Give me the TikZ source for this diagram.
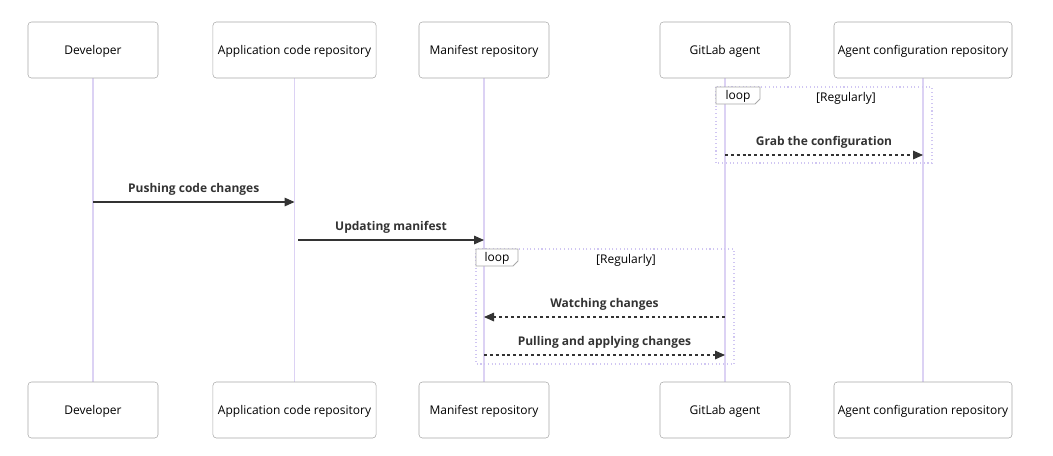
\documentclass[tikz,border=0pt]{standalone}
\usepackage{fontspec}
\setmainfont{Open Sans}
\usetikzlibrary{arrows.meta, positioning, backgrounds}

\definecolor{actorline}{HTML}{A8A8A8}
\definecolor{lifeline}{HTML}{DCD2F4}
\definecolor{loopline}{HTML}{D0C6F2}
\definecolor{msgtext}{HTML}{333333}

\begin{document}
\begin{tikzpicture}[
    x=0.75pt, y=-0.75pt,
    >={Triangle[length=7.5pt, width=6.5pt]},
    actor/.style={rectangle, rounded corners=2.5pt, draw=actorline, fill=white,
                  minimum height=42pt, inner sep=0pt, text height=9pt, text depth=1.8pt,
                  font=\fontsize{9}{10}\selectfont},
    life/.style={draw=lifeline, line width=1.3pt},
    msg/.style={->, draw=msgtext, line width=0.8pt},
    reply/.style={msg, dash pattern=on 2.2pt off 2.2pt},
    msglabel/.style={font=\fontsize{9}{10}\selectfont\bfseries, text=msgtext, above=1.5pt},
    loopframe/.style={draw=loopline, line width=0.8pt, dotted},
    looptab/.style={draw=actorline, fill=white, line width=0.6pt},
    looptext/.style={font=\fontsize{9}{10}\selectfont, text=black, text height=6.8pt, text depth=1.8pt}
]
\useasboundingbox (0,0) rectangle (1053,455);

% Participants (top)
\node[actor, minimum width=97.5pt]  (dev)      at (93,50)  {Developer};
\node[actor, minimum width=122.3pt] (app)      at (294.5,50) {Application code repository};
\node[actor, minimum width=97.5pt]  (manifest) at (484,50) {Manifest repository};
\node[actor, minimum width=97.5pt]  (agent)    at (725,50) {GitLab agent};
\node[actor, minimum width=133.5pt] (config)   at (923,50) {Agent configuration repository};

% Participants (bottom)
\node[actor, minimum width=97.5pt]  (devB)      at (93,410)  {Developer};
\node[actor, minimum width=122.3pt] (appB)      at (294.5,410) {Application code repository};
\node[actor, minimum width=97.5pt]  (manifestB) at (484,410) {Manifest repository};
\node[actor, minimum width=97.5pt]  (agentB)    at (725,410) {GitLab agent};
\node[actor, minimum width=133.5pt] (configB)   at (923,410) {Agent configuration repository};

% Lifelines
\begin{scope}[on background layer]
    \draw[life] (dev) -- (devB);
    \draw[life] (app) -- (appB);
    \draw[life] (manifest) -- (manifestB);
    \draw[life] (agent) -- (agentB);
    \draw[life] (config) -- (configB);
\end{scope}

% Loop 1
\draw[loopframe] (716,87) rectangle (932,163);
\draw[looptab] (716,87) -- (760,87) -- (760,99) -- (755,104) -- (716,104) -- cycle;
\node[looptext] (loopA) at (738,96) {loop};
\node[looptext] (condA) at (846,98) {[Regularly]};

% Loop 2
\draw[loopframe] (476,249) rectangle (734,364);
\draw[looptab] (476,249) -- (518,249) -- (518,261) -- (513,266) -- (476,266) -- cycle;
\node[looptext] (loopB) at (497,258.5) {loop};
\node[looptext] (condB) at (626,260) {[Regularly]};

% Message anchors
\coordinate (grabA)  at (agent |- 0,155);
\coordinate (grabB)  at (config |- 0,155);
\coordinate (pushA)  at (dev |- 0,202);
\coordinate (pushB)  at (app |- 0,202);
\coordinate (updA)   at (298,240);
\coordinate (updB)   at (manifest |- 0,240);
\coordinate (watchA) at (agent |- 0,317);
\coordinate (watchB) at (manifest |- 0,317);
\coordinate (pullA)  at (manifest |- 0,355);
\coordinate (pullB)  at (agent |- 0,355);

% Messages
\draw[reply] (grabA) -- (grabB) node[midway, msglabel] {Grab the configuration};
\draw[msg] (pushA) -- (pushB) node[midway, msglabel] {Pushing code changes};
\draw[msg] (updA) -- (updB) node[midway, msglabel] {Updating manifest};
\draw[reply] (watchA) -- (watchB) node[midway, msglabel] {Watching changes};
\draw[reply] (pullA) -- (pullB) node[midway, msglabel] {Pulling and applying changes};

\end{tikzpicture}
\end{document}
